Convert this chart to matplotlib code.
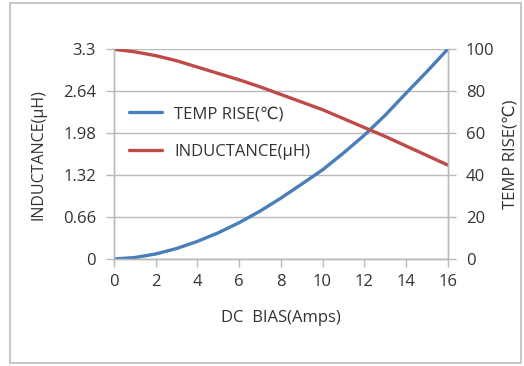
import matplotlib
matplotlib.use("Agg")
import matplotlib.pyplot as plt
from matplotlib.patches import Rectangle

plt.rcParams['font.family'] = ['Open Sans', 'DejaVu Sans']

dc_bias = [0, 1, 2, 3, 4, 5, 6, 7, 8, 9, 10, 11, 12, 13, 14, 15, 16]
inductance = [3.30, 3.26, 3.20, 3.12, 3.02, 2.92, 2.82, 2.71, 2.59, 2.47, 2.35,
              2.21, 2.07, 1.93, 1.78, 1.63, 1.48]
temp_rise = [0, 0.7, 2.4, 5.0, 8.4, 12.5, 17.3, 22.8, 29.0, 35.7, 42.5,
             50.5, 59.0, 68.5, 79.0, 89.3, 100]
x_ticks = [0, 2, 4, 6, 8, 10, 12, 14, 16]
l_ticks = [0, 0.66, 1.32, 1.98, 2.64, 3.3]
l_tick_labels = ['0', '0.66', '1.32', '1.98', '2.64', '3.3']
t_ticks = [0, 20, 40, 60, 80, 100]

BLUE = '#4a7ebb'
RED = '#be4b48'
GRID = '#b9b9b9'
TXT = '#333333'

fig = plt.figure(figsize=(5.24, 3.66), dpi=100)
fig.patches.append(Rectangle((10/524, 1-363/366), 511/524, 360/366, transform=fig.transFigure,
                             fill=False, edgecolor='#bdbdbd', linewidth=1.2))

ax = fig.add_axes([114/524, 1-259/366, 333.6/524, 209.7/366])
ax2 = ax.twinx()

ax.set_xlim(0, 16)
ax.set_ylim(0, 3.3)
ax2.set_ylim(0, 100)

ax.set_xticks(x_ticks)
ax.set_yticks(l_ticks)
ax.set_yticklabels(l_tick_labels)
ax2.set_yticks(t_ticks)
ax.grid(axis='y', color=GRID, linewidth=1.0)
ax.set_axisbelow(True)

for a in (ax, ax2):
    for s in a.spines.values():
        s.set_color(GRID)
        s.set_linewidth(1.0)
    a.spines['top'].set_visible(False)
    a.tick_params(colors=GRID, labelcolor=TXT, labelsize=12, length=6, width=1.0, direction='out')
ax.tick_params(axis='y', pad=7)
ax2.tick_params(axis='y', pad=7)
ax.tick_params(axis='x', pad=5)

l2, = ax2.plot(dc_bias, temp_rise, color=BLUE, linewidth=2.4,
               solid_capstyle='round', solid_joinstyle='round')
l1, = ax2.plot(dc_bias, [v / 3.3 * 100 for v in inductance], color=RED, linewidth=2.4,
               solid_capstyle='round', solid_joinstyle='round')

ax.set_ylabel('INDUCTANCE(µH)', fontsize=11.5, color=TXT, labelpad=12)
ax2.set_ylabel('TEMP RISE(℃)', fontsize=12, color=TXT, labelpad=6)
ax.set_xlabel('DC  BIAS(Amps)', fontsize=12, color=TXT, labelpad=14)

leg = ax2.legend([l2, l1], ['TEMP RISE(℃)', 'INDUCTANCE(µH)'], loc='upper left',
                 bbox_to_anchor=(0.0, 0.8), frameon=False, fontsize=12, handlelength=2.0,
                 labelspacing=1.3, handletextpad=0.7, labelcolor=TXT)

fig.savefig('out.png', dpi=100)
